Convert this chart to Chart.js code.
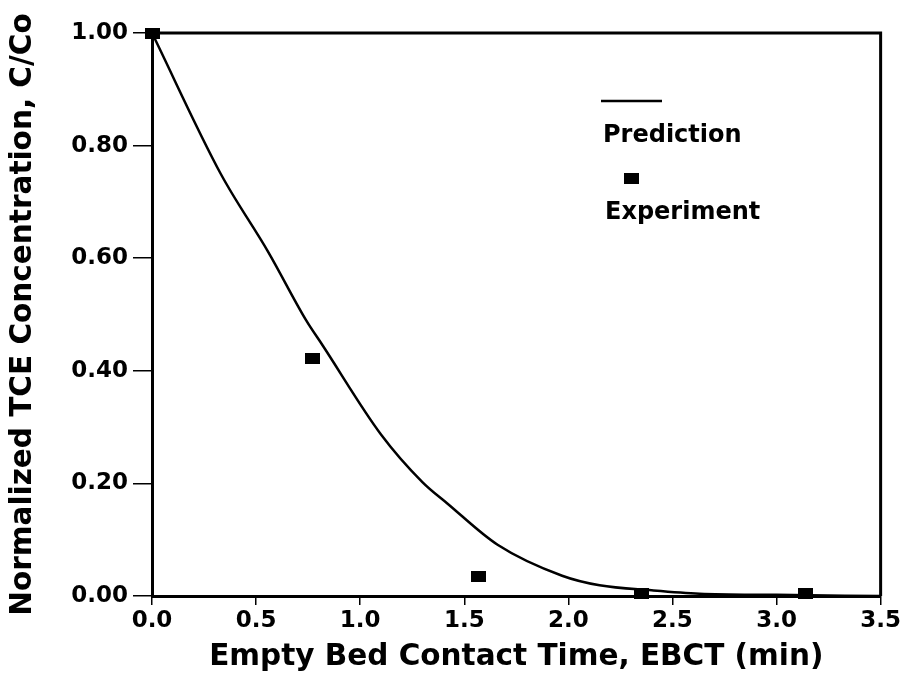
<!DOCTYPE html>
<html>
<head>
<meta charset="utf-8">
<script src="https://cdn.jsdelivr.net/npm/chart.js@4"></script>
<style>
  body { margin: 0; background: #fff; }
  #wrap { width: 903px; height: 677px; }
</style>
</head>
<body>
<div id="wrap"><canvas id="tceChart" width="903" height="677"></canvas></div>
<script>
// EBCT (min) vs normalized TCE concentration C/Co
const predEbct = [0, 0.33, 0.56, 0.74, 0.82, 1.10, 1.30, 1.42, 1.66, 1.97, 2.15, 2.40, 2.63, 3.0, 3.5];
const predConc = [1.0, 0.75, 0.61, 0.49, 0.445, 0.287, 0.202, 0.164, 0.091, 0.036, 0.019, 0.010, 0.004, 0.002, 0.0];

const expEbct = [0, 0.77, 1.57, 2.35, 3.14];
const expConc = [1.0, 0.421, 0.035, 0.005, 0.004];

const xTicks = [0, 0.5, 1.0, 1.5, 2.0, 2.5, 3.0, 3.5];
const yTicks = [0, 0.2, 0.4, 0.6, 0.8, 1.0];

const fontFam = '"DejaVu Sans", Verdana, sans-serif';

// black rectangular marker like the scanned figure
const marker = document.createElement('canvas');
marker.width = 15; marker.height = 11;
const mctx = marker.getContext('2d');
mctx.fillStyle = '#000';
mctx.fillRect(0, 0, 15, 11);

const frameAndLegend = {
    id: 'frameAndLegend',
    afterDraw(chart) {
        const { ctx, chartArea: a } = chart;
        ctx.save();
        ctx.strokeStyle = '#000';
        ctx.lineWidth = 3;
        ctx.beginPath();
        ctx.moveTo(a.left, a.top);
        ctx.lineTo(a.right, a.top);
        ctx.lineTo(a.right, a.bottom);
        ctx.stroke();

        // legend: symbol above label
        ctx.lineWidth = 2.5;
        ctx.beginPath();
        ctx.moveTo(601, 101);
        ctx.lineTo(662, 101);
        ctx.stroke();
        ctx.drawImage(marker, 624, 173);
        ctx.fillStyle = '#000';
        ctx.font = 'bold 24px ' + fontFam;
        ctx.textBaseline = 'middle';
        ctx.fillText('Prediction', 603, 136);
        ctx.fillText('Experiment', 605, 213);
        ctx.restore();
    }
};

new Chart(document.getElementById('tceChart').getContext('2d'), {
    type: 'scatter',
    data: {
        datasets: [{
            label: 'Prediction',
            type: 'line',
            data: predEbct.map((x, i) => ({ x: x, y: predConc[i] })),
            borderColor: '#000',
            borderWidth: 2.5,
            pointRadius: 0,
            cubicInterpolationMode: 'monotone',
            fill: false
        }, {
            label: 'Experiment',
            data: expEbct.map((x, i) => ({ x: x, y: expConc[i] })),
            pointStyle: marker,
            backgroundColor: '#000',
            borderColor: '#000',
            clip: false
        }]
    },
    options: {
        responsive: false,
        animation: false,
        layout: { padding: { top: 33, right: 19, left: 0, bottom: 0 } },
        plugins: {
            legend: { display: false },
            tooltip: { enabled: false }
        },
        scales: {
            x: {
                type: 'linear',
                min: 0, max: 3.5,
                afterBuildTicks: s => { s.ticks = xTicks.map(v => ({ value: v })); },
                afterFit: s => { s.height = 81; },
                ticks: {
                    color: '#000',
                    font: { family: fontFam, size: 23, weight: 'bold' },
                    padding: 2,
                    maxRotation: 0,
                    callback: v => v.toFixed(1)
                },
                grid: { drawOnChartArea: false, color: '#000', lineWidth: 1.5, tickLength: 9 },
                border: { color: '#000', width: 3 },
                title: {
                    display: true,
                    text: 'Empty Bed Contact Time, EBCT (min)',
                    color: '#000',
                    font: { family: fontFam, size: 29.5, weight: 'bold' },
                    padding: { top: 0, bottom: 2 }
                }
            },
            y: {
                min: 0, max: 1,
                afterBuildTicks: s => { s.ticks = yTicks.map(v => ({ value: v })); },
                afterFit: s => { s.width = 152; },
                ticks: {
                    color: '#000',
                    font: { family: fontFam, size: 23, weight: 'bold' },
                    padding: 5,
                    callback: v => v.toFixed(2)
                },
                grid: { drawOnChartArea: false, color: '#000', lineWidth: 1.5, tickLength: 19 },
                border: { color: '#000', width: 3 },
                title: {
                    display: true,
                    text: 'Normalized TCE Concentration, C/Co',
                    color: '#000',
                    font: { family: fontFam, size: 29.5, weight: 'bold' },
                    padding: { top: 6, bottom: 0 }
                }
            }
        }
    },
    plugins: [frameAndLegend]
});
</script>
</body>
</html>
